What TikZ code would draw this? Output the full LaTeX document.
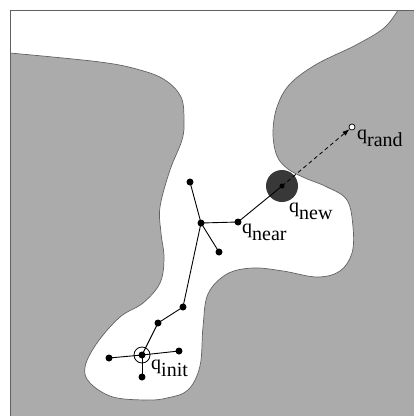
\documentclass[tikz,border=0pt]{standalone}
\usepackage{fontspec}
\setmainfont{Liberation Serif}
\usetikzlibrary{arrows.meta}
\definecolor{obst}{gray}{0.67}
\definecolor{edgegray}{gray}{0.38}
\definecolor{bigdisk}{gray}{0.22}
\tikzset{
  vert/.style={circle,fill=black,inner sep=0pt,minimum size=7pt},
  treeedge/.style={line width=0.9pt,black},
  lbl/.style={anchor=base west,inner sep=0pt,font=\fontsize{20}{20}\selectfont},
}
\newcommand{\qsub}[1]{q\raisebox{-7pt}{#1}}
\begin{document}
\begin{tikzpicture}[x=1pt,y=-1pt]
\useasboundingbox (0,0) rectangle (414,416);
\fill[obst] (10,10) rectangle (414,416);
\fill[white] (10,10) -- (398,10) -- plot[smooth,tension=0.6] coordinates {
 (398,10) (384,28) (356,45) (317,64) (290,84) (277,107) (273,133) (277,156) (288,169) (305,178) (327,187) (347,200) (353,227) (352,253) (340,271) (317,277) (283,271) (253,268) (227,274) (208,294) (203,327) (200,366) (188,390) (167,398) (147,400) (113,397) (90,383) (85,367) (97,343) (120,317) (143,303) (160,283) (164,258) (161,233) (160,207) (170,170) (182,140) (184,120) (181,97) (165,80) (140,70) (100,62) (10,53)} -- cycle;
\draw[edgegray,line width=0.7pt] plot[smooth,tension=0.6] coordinates {
 (398,10) (384,28) (356,45) (317,64) (290,84) (277,107) (273,133) (277,156) (288,169) (305,178) (327,187) (347,200) (353,227) (352,253) (340,271) (317,277) (283,271) (253,268) (227,274) (208,294) (203,327) (200,366) (188,390) (167,398) (147,400) (113,397) (90,383) (85,367) (97,343) (120,317) (143,303) (160,283) (164,258) (161,233) (160,207) (170,170) (182,140) (184,120) (181,97) (165,80) (140,70) (100,62) (10,53)};
\draw[edgegray,line width=0.8pt] (10,416) -- (10,10) -- (414,10);
% big disk around q_new
\fill[bigdisk] (282,186) circle (16);
% vertices
\node[vert] (init) at (142,355) {};
\node[vert] (l) at (109,358) {};
\node[vert] (r) at (179,351) {};
\node[vert] (b) at (142,377) {};
\node[vert] (u1) at (158,323) {};
\node[vert] (u2) at (183,307) {};
\node[vert] (hub) at (201,223) {};
\node[vert] (top) at (190,182) {};
\node[vert] (br) at (219,252) {};
\node[vert] (near) at (238,222) {};
\node[circle,fill=black,inner sep=0pt,minimum size=5pt] (new) at (282,186) {};
\node[circle,draw=black,fill=white,line width=0.7pt,inner sep=0pt,minimum size=6pt] (rand) at (352,127) {};
\draw[line width=0.8pt] (init) circle (8);
% edges
\draw[treeedge] (init.center) -- (l.center);
\draw[treeedge] (init.center) -- (r.center);
\draw[treeedge] (init.center) -- (b.center);
\draw[treeedge] (init.center) -- (u1.center);
\draw[treeedge] (u1.center) -- (u2.center);
\draw[treeedge] (u2.center) -- (hub.center);
\draw[treeedge] (hub.center) -- (top.center);
\draw[treeedge] (hub.center) -- (br.center);
\draw[treeedge] (hub.center) -- (near.center);
\draw[treeedge] (near.center) -- (new.center);
\draw[line width=0.8pt,dash pattern=on 4pt off 3pt,-{Latex[length=7pt,width=5pt]}] (new.center) -- (rand);
% labels
\node[lbl] (linit) at (151,369) {\qsub{init}};
\node[lbl] (lnear) at (242,233) {\qsub{near}};
\node[lbl] (lnew) at (289,212) {\qsub{new}};
\node[lbl] (lrand) at (357,139) {\qsub{rand}};
\end{tikzpicture}
\end{document}
